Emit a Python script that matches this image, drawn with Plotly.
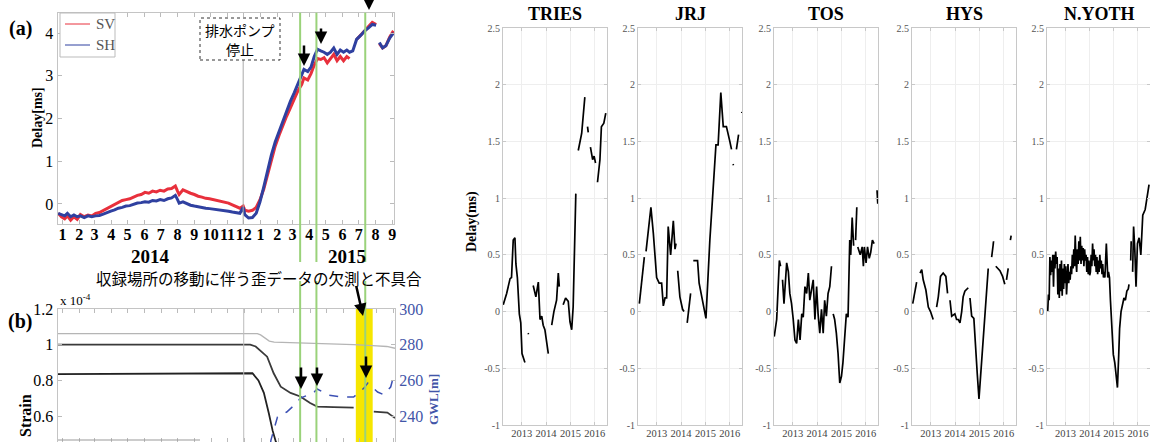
import plotly.graph_objects as go

W, H = 1150, 442
def px(x): return x / W
def py(y): return 1 - y / H

SERIF = "Liberation Serif"
JP = "Noto Sans CJK JP"

# ---------------- Panel (a): delay SV / SH ----------------
a_dates = ["2013-12-24","2013-12-30","2014-01-05","2014-01-10","2014-01-16","2014-01-22","2014-01-28",
           "2014-02-03","2014-02-10","2014-02-17","2014-02-24","2014-03-03","2014-03-10","2014-03-17",
           "2014-03-24","2014-03-31","2014-04-07","2014-04-14","2014-04-21","2014-04-28","2014-05-05",
           "2014-05-12","2014-05-19","2014-05-26","2014-06-02","2014-06-09","2014-06-16","2014-06-23",
           "2014-06-30","2014-07-07","2014-07-14","2014-07-21","2014-07-28","2014-08-01","2014-08-04",
           "2014-08-11","2014-08-18","2014-08-25","2014-09-01","2014-09-08","2014-09-15","2014-09-22",
           "2014-09-29","2014-10-06","2014-10-13","2014-10-20","2014-10-27","2014-11-03","2014-11-10",
           "2014-11-17","2014-11-24","2014-11-30","2014-12-03","2014-12-10","2014-12-17","2014-12-24",
           "2014-12-31","2015-01-07","2015-01-14","2015-01-21","2015-01-28","2015-02-04","2015-02-11",
           "2015-02-18","2015-02-25","2015-03-04","2015-03-11","2015-03-18","2015-03-22","2015-03-29",
           "2015-04-04","2015-04-10","2015-04-16","2015-04-22","2015-04-28","2015-05-04","2015-05-10",
           "2015-05-16","2015-05-22","2015-05-28","2015-06-03","2015-06-09","2015-06-14","2015-06-20",
           "2015-06-27","2015-07-05","2015-07-12","2015-07-19","2015-07-26","2015-08-02","2015-08-05",
           "2015-08-08","2015-08-14","2015-08-20","2015-08-27","2015-09-03"]
sv = [-0.22,-0.30,-0.35,-0.28,-0.38,-0.30,-0.36,-0.25,-0.30,-0.26,-0.28,-0.22,-0.20,-0.15,
      -0.10,-0.05,0.00,0.03,0.08,0.10,0.12,0.16,0.20,0.22,0.27,0.25,0.30,0.28,0.32,0.30,0.35,
      0.36,0.42,0.30,0.22,0.33,0.28,0.25,0.22,0.18,0.16,0.13,0.12,0.10,0.08,0.07,0.05,0.02,
      -0.02,-0.06,-0.10,-0.05,-0.15,-0.17,-0.15,-0.08,0.10,0.35,0.70,1.05,1.35,1.60,1.85,
      2.05,2.25,2.45,2.65,2.80,2.95,2.90,3.05,3.25,3.40,3.38,3.42,3.30,3.40,3.50,3.35,3.45,
      3.35,3.45,3.40,None,3.85,3.95,4.05,4.15,4.25,4.20,None,3.75,3.65,3.70,3.90,4.05]
sh = [-0.22,-0.25,-0.28,-0.22,-0.30,-0.26,-0.30,-0.28,-0.32,-0.28,-0.30,-0.28,-0.27,-0.24,
      -0.20,-0.17,-0.14,-0.10,-0.08,-0.05,-0.04,-0.01,0.02,0.03,0.05,0.04,0.08,0.07,0.10,0.08,
      0.12,0.14,0.20,0.10,0.02,0.05,0.00,-0.03,-0.05,-0.07,-0.08,-0.10,-0.11,-0.12,-0.14,-0.15,
      -0.16,-0.17,-0.19,-0.20,-0.22,-0.08,-0.25,-0.33,-0.32,-0.22,0.05,0.40,0.80,1.15,1.45,
      1.70,1.95,2.20,2.40,2.60,2.80,3.00,3.15,3.10,3.20,3.45,3.62,3.58,3.55,3.50,3.55,3.65,
      3.50,3.60,3.55,3.60,3.55,3.58,3.85,3.95,4.05,4.12,4.20,4.18,None,3.78,3.65,3.70,3.88,4.00]

a_month_ticks = ["2014-%02d-01" % m for m in range(1, 13)] + ["2015-%02d-01" % m for m in range(1, 10)]
a_month_text = [str(m) for m in range(1, 13)] + [str(m) for m in range(1, 10)]
green_dates = ["2015-03-15", "2015-04-14", "2015-07-13"]
pump_stop = "2014-11-30"
yellow_band = ["2015-06-24", "2015-07-25"]

# ---------------- Panel (b): strain / GWL ----------------
strain_light_t = ["2013-12-22","2014-12-25","2014-12-31","2015-01-08","2015-01-16","2015-01-25",
                  "2015-03-01","2015-04-15","2015-05-27","2015-06-20","2015-07-25","2015-08-20","2015-09-04"]
strain_light_v = [1.062,1.062,1.055,1.035,1.02,1.015,1.012,1.008,1.005,1.0,0.995,0.99,0.98]
strain_a_t = ["2013-12-22","2014-12-12","2014-12-22","2015-01-01","2015-01-12","2015-01-24","2015-02-06",
              "2015-02-24","2015-03-14","2015-04-01","2015-04-14","2015-05-14","2015-06-20","2015-06-24",
              "2015-07-27","2015-08-21","2015-08-30","2015-09-04"]
strain_a_v = [1.0,1.0,0.99,0.965,0.933,0.84,0.765,0.73,0.71,0.673,0.653,0.65,0.647,None,
              0.625,0.62,0.60,0.59]
strain_b_t = ["2013-12-22","2014-08-15","2014-12-16","2014-12-27","2015-01-06","2015-01-15",
              "2015-01-22","2015-01-28","2015-02-06"]
strain_b_v = [0.835,0.84,0.84,0.80,0.73,0.617,0.52,0.457,0.40]
gwl_t = ["2015-01-14","2015-01-19","2015-01-31","2015-02-17","2015-03-07","2015-03-14","2015-04-07",
         "2015-04-14","2015-05-05","2015-05-27","2015-06-20","2015-07-09","2015-07-16","2015-08-03",
         "2015-08-14","2015-08-27","2015-09-02"]
gwl_v = [215,226.6,239.5,242.3,247.3,250.1,253,255.2,251.8,250.7,250.7,255.7,258.5,253.5,252,256.3,263]

# ---------------- Right panels: station delays ----------------
stations = ["TRIES", "JRJ", "TOS", "HYS", "N.YOTH"]
tries_t = [2012.24,2012.38,2012.52,2012.58,2012.65,2012.72,2012.76,2012.82,2012.90,2012.96,2013.01,2013.13,None,
           2013.26,2013.28,None,
           2013.47,2013.58,2013.68,2013.75,2013.82,2013.88,2013.95,2014.09,None,
           2014.23,2014.32,2014.43,2014.50,2014.54,None,
           2014.70,2014.80,2014.91,2014.98,2015.05,2015.11,2015.22,None,
           2015.32,2015.46,2015.59,None,2015.70,2015.73,None,
           2015.82,2015.91,2015.97,2016.03,None,
           2016.11,2016.21,2016.27,2016.37,2016.45]
tries_v = [0.06,0.16,0.29,0.30,0.63,0.65,0.42,0.30,-0.02,-0.10,-0.37,-0.45,None,
           -0.19,-0.20,None,
           0.23,0.13,0.26,-0.07,-0.04,-0.12,-0.16,-0.37,None,
           -0.12,0.0,0.10,0.34,0.22,None,
           0.06,0.12,0.09,-0.09,-0.16,0.04,1.04,None,
           1.42,1.57,1.89,None,1.63,1.58,None,
           1.45,1.34,1.37,1.31,None,
           1.14,1.34,1.63,1.66,1.75]
jrj_t = [2012.285,2012.49,None,2012.56,2012.69,2012.76,2012.86,2012.995,2013.10,2013.20,2013.27,2013.34,
         2013.405,2013.47,2013.57,2013.68,2013.75,2013.79,None,2013.86,2013.95,2014.06,2014.12,None,
         2014.25,2014.39,None,2014.50,2014.675,2014.74,2014.84,2015.02,2015.18,2015.32,2015.43,2015.52,
         2015.63,2015.73,2015.86,2016.0,2016.07,None,2016.13,2016.15,None,2016.27,2016.36,None,2016.49,2016.50]
jrj_v = [0.07,0.48,None,0.53,0.78,0.92,0.69,0.30,0.25,0.25,0.05,0.12,
         0.12,0.75,0.50,0.80,0.55,0.60,None,0.36,0.13,0.02,0.0,None,
         -0.10,0.16,None,0.45,0.45,0.25,0.13,-0.06,0.63,1.12,1.47,1.47,
         1.93,1.63,1.63,1.50,1.43,None,1.30,1.29,None,1.43,1.56,None,1.75,1.76]
tos_t = [2012.24,2012.34,2012.45,2012.50,None,2012.58,2012.64,2012.75,2012.82,2012.88,2012.95,2013.02,
         2013.09,2013.16,2013.23,2013.30,2013.37,2013.43,2013.50,2013.57,2013.64,2013.70,2013.77,2013.84,
         2013.91,2013.98,2014.04,2014.11,2014.18,2014.25,2014.31,2014.38,2014.45,2014.52,2014.59,None,
         2014.66,2014.72,2014.79,2014.86,2014.93,2015.00,2015.06,2015.13,2015.20,2015.27,2015.34,2015.38,
         2015.44,2015.50,None,2015.58,2015.63,None,2015.67,2015.77,2015.85,2015.90,2015.94,2016.01,
         2016.07,2016.14,2016.20,2016.27,2016.34,None,2016.46,2016.49]
tos_v = [-0.22,-0.07,0.45,0.40,None,0.28,0.07,0.43,0.35,0.16,0.07,-0.07,
         -0.25,-0.28,-0.07,-0.25,-0.02,-0.05,0.22,0.16,0.34,0.10,0.20,0.28,
         -0.07,0.22,-0.02,-0.19,0.02,-0.19,0.10,-0.04,0.16,0.22,0.40,None,
         -0.02,-0.07,-0.19,-0.37,-0.63,-0.57,-0.45,-0.19,-0.02,-0.05,0.63,0.50,
         0.83,0.58,None,0.63,0.92,None,0.57,0.50,0.57,0.40,0.57,0.43,
         0.57,0.47,0.52,0.63,0.60,None,1.07,0.95]
hys_t = [2012.26,2012.35,2012.42,None,2012.56,2012.63,2012.69,2012.80,2012.90,2012.99,2013.10,None,
         2013.24,2013.31,2013.40,2013.51,2013.62,2013.69,None,2013.79,2013.86,2013.99,2014.06,2014.13,
         2014.20,2014.27,2014.33,2014.40,2014.54,None,2014.61,2014.68,2014.77,2014.84,2014.91,2014.98,
         2015.04,2015.15,2015.26,2015.36,None,2015.50,2015.58,None,2015.67,2015.77,2015.84,2015.95,
         2016.04,None,2016.11,2016.18,None,2016.27,2016.30]
hys_v = [0.07,0.19,0.26,None,0.34,0.37,0.28,0.19,0.04,0.0,-0.07,None,
         0.04,0.13,0.31,0.34,0.31,0.16,None,0.10,-0.04,-0.02,-0.07,-0.07,
         -0.10,0.0,0.13,0.18,0.21,None,0.12,-0.04,-0.06,-0.34,-0.55,-0.77,
         -0.60,-0.25,0.10,0.38,None,0.48,0.62,None,0.40,0.38,0.36,0.31,
         0.24,None,0.28,0.38,None,0.63,0.67]
nyoth_t = [2012.26,2012.29,2012.32,2012.35,2012.38,2012.41,2012.44,2012.47,2012.50,2012.53,2012.56,
           2012.59,2012.62,2012.65,2012.68,2012.71,2012.74,2012.77,2012.80,2012.83,2012.86,2012.89,
           2012.92,2012.95,2012.98,2013.01,2013.04,2013.07,2013.10,2013.13,2013.16,2013.19,2013.22,
           2013.25,2013.28,2013.31,2013.34,2013.37,2013.40,2013.43,2013.46,2013.49,2013.52,2013.55,
           2013.58,2013.61,2013.64,2013.67,2013.70,2013.73,2013.76,2013.79,2013.82,2013.85,2013.88,
           2013.91,2013.94,2013.97,2014.00,2014.03,2014.06,2014.09,2014.12,2014.15,2014.18,2014.21,
           2014.24,2014.27,2014.30,2014.33,2014.36,2014.39,2014.42,2014.45,2014.48,2014.51,2014.54,
           2014.57,2014.60,2014.63,2014.66,2014.69,2014.72,2014.75,2014.78,2014.82,2014.86,2014.92,
           2014.98,2015.04,2015.10,2015.15,2015.20,2015.24,2015.30,2015.36,2015.42,2015.48,2015.54,
           2015.60,2015.63,None,2015.70,2015.72,None,2015.78,2015.82,2015.87,2015.92,2015.98,2016.05,
           2016.12,2016.20,2016.30,2016.40,2016.46]
nyoth_v = [0.0,0.15,0.10,0.48,0.32,0.45,0.35,0.50,0.22,0.50,0.38,
           0.53,0.42,0.48,0.15,0.38,0.12,0.42,0.18,0.45,0.14,0.38,
           0.20,0.42,0.25,0.40,0.15,0.30,0.42,0.25,0.35,0.28,0.40,
           0.33,0.50,0.38,0.55,0.40,0.67,0.45,0.35,0.55,0.42,0.62,
           0.45,0.66,0.42,0.58,0.45,0.56,0.40,0.55,0.45,0.50,0.35,
           0.48,0.33,0.45,0.32,0.35,0.50,0.40,0.60,0.45,0.55,0.40,
           0.50,0.35,0.48,0.33,0.45,0.35,0.50,0.38,0.45,0.33,0.42,
           0.30,0.35,0.30,0.45,0.60,0.45,0.30,0.35,0.30,0.10,-0.20,
           -0.38,-0.45,-0.60,-0.67,-0.40,-0.15,0.0,0.05,0.12,0.10,0.18,
           0.20,0.24,None,0.45,0.62,None,0.35,0.75,0.55,0.22,0.60,0.65,
           0.50,0.85,0.90,1.05,1.12]
station_t = [tries_t, jrj_t, tos_t, hys_t, nyoth_t]
station_v = [tries_v, jrj_v, tos_v, hys_v, nyoth_v]
year_ticks = [2013, 2014, 2015, 2016]
delay_ticks = [-1, -0.5, 0, 0.5, 1, 1.5, 2, 2.5]
delay_text = ["-1", "-0.5", "0", "0.5", "1", "1.5", "2", "2.5"]

# =====================================================================
fig = go.Figure()
RED = "#e8303c"
BLUE = "#2f40a0"
GREEN = "#9ad27a"

fig.add_trace(go.Scatter(x=a_dates, y=sv, mode="lines", line=dict(color=RED, width=3),
                         connectgaps=False, xaxis="x", yaxis="y", name="SV"))
fig.add_trace(go.Scatter(x=a_dates, y=sh, mode="lines", line=dict(color=BLUE, width=3),
                         connectgaps=False, xaxis="x", yaxis="y", name="SH"))

fig.add_trace(go.Scatter(x=strain_light_t, y=strain_light_v, mode="lines",
                         line=dict(color="#b5b5b5", width=1.3), xaxis="x2", yaxis="y2"))
fig.add_trace(go.Scatter(x=strain_a_t, y=strain_a_v, mode="lines", connectgaps=False,
                         line=dict(color="#3a3a3a", width=1.8), xaxis="x2", yaxis="y2"))
fig.add_trace(go.Scatter(x=strain_b_t, y=strain_b_v, mode="lines",
                         line=dict(color="#222222", width=1.8), xaxis="x2", yaxis="y2"))
fig.add_trace(go.Scatter(x=gwl_t, y=gwl_v, mode="lines",
                         line=dict(color="#3c50b4", width=1.5, dash="dash"), xaxis="x2", yaxis="y3"))

left_px = [503, 638, 774, 912, 1047]
panel_w = 104
for i in range(5):
    xa = "x%d" % (i + 3)
    ya = "y%d" % (i + 4)
    fig.add_trace(go.Scatter(x=station_t[i], y=station_v[i], mode="lines", connectgaps=False,
                             line=dict(color="black", width=1.7), xaxis=xa, yaxis=ya))

# ---------------- layout axes ----------------
a_dom_x = [px(57.5), px(394)]
layout = dict(
    template="none",
    width=W, height=H, margin=dict(l=0, r=0, t=0, b=0, pad=0), autosize=False,
    paper_bgcolor="white", plot_bgcolor="white", showlegend=False,
    font=dict(family=SERIF, color="black"),
    xaxis=dict(domain=a_dom_x, anchor="y", type="date", range=["2013-12-22 18:00", "2015-09-04"],
               tickvals=a_month_ticks, ticktext=a_month_text, tickangle=0, automargin=False,
               ticklabelstandoff=-4,
               tickfont=dict(size=16, family=SERIF, weight="bold", color="black"),
               showline=True, linecolor="#c4c4c4", mirror="ticks", ticks="inside", ticklen=4,
               tickcolor="#bbbbbb", showgrid=False, zeroline=False),
    yaxis=dict(domain=[py(224), py(12.7)], anchor="x", range=[-0.47, 4.475], automargin=False,
               tickvals=[0, 1, 2, 3, 4], tickfont=dict(size=16, family=SERIF),
               showline=True, linecolor="#c4c4c4", mirror="ticks", ticks="inside", ticklen=4,
               tickcolor="#bbbbbb", showgrid=False, zeroline=False),
    xaxis2=dict(domain=[px(57.5), px(395)], anchor="y2", type="date", automargin=False,
                range=["2013-12-22 18:00", "2015-09-04"], tickvals=a_month_ticks,
                showticklabels=False, showline=True, linecolor="#c4c4c4", mirror="ticks",
                ticks="inside", ticklen=4, tickcolor="#bbbbbb", showgrid=False, zeroline=False),
    yaxis2=dict(domain=[0, py(309)], anchor="x2", range=[0.455, 1.2], automargin=False,
                tickvals=[0.6, 0.8, 1.0, 1.2], ticktext=["0.6", "0.8", "1", "1.2"],
                tickfont=dict(size=16, family=SERIF), showline=True, linecolor="#c4c4c4",
                ticks="inside", ticklen=4, tickcolor="#bbbbbb", showgrid=False, zeroline=False),
    yaxis3=dict(overlaying="y2", anchor="x2", side="right", range=[225.5, 300], automargin=False,
                tickvals=[240, 260, 280, 300], tickfont=dict(size=16, family=SERIF, color="#4255a8"),
                showline=True, linecolor="#c4c4c4", ticks="inside", ticklen=4,
                tickcolor="#bbbbbb", showgrid=False, zeroline=False),
)
for i in range(5):
    l = left_px[i]
    r = min(l + panel_w, W)
    layout["xaxis%d" % (i + 3)] = dict(
        domain=[px(l), px(r)], anchor="y%d" % (i + 4), range=[2012.23, 2016.5], automargin=False,
        tickvals=year_ticks, ticktext=[str(y) for y in year_ticks], ticklabelstandoff=-2,
        tickfont=dict(size=10.5, family=SERIF, color="#444444"),
        showline=True, linecolor="#c8c8c8", mirror="ticks", ticks="inside", ticklen=3,
        tickcolor="#c8c8c8", showgrid=True, gridcolor="#eeeeee", zeroline=False)
    layout["yaxis%d" % (i + 4)] = dict(
        domain=[py(425), py(28)], anchor="x%d" % (i + 3), range=[-1, 2.5], automargin=False,
        tickvals=delay_ticks, ticktext=delay_text,
        tickfont=dict(size=10, family=SERIF, color="#555555"),
        showline=True, linecolor="#c8c8c8", mirror="ticks", ticks="inside", ticklen=3,
        tickcolor="#c8c8c8", showgrid=True, gridcolor="#eeeeee", zeroline=False)
fig.update_layout(**layout)

# ---------------- shapes ----------------
shapes = []
shapes.append(dict(type="rect", xref="x2", yref="paper", x0=yellow_band[0], x1=yellow_band[1],
                   y0=0, y1=py(309), fillcolor="#f6e600", line=dict(width=0), layer="below"))
for d in green_dates:
    for (y0, y1) in [(12.7, 262), (281, 442)]:
        shapes.append(dict(type="line", xref="x", yref="paper", x0=d, x1=d, y0=py(y1), y1=py(y0),
                           line=dict(color=GREEN, width=2)))
shapes.append(dict(type="line", xref="x", yref="paper", x0=pump_stop, x1=pump_stop,
                   y0=py(224), y1=py(60), line=dict(color="#aaaaaa", width=1)))
shapes.append(dict(type="line", xref="x2", yref="paper", x0=pump_stop, x1=pump_stop,
                   y0=0, y1=py(309), line=dict(color="#bbbbbb", width=1)))
shapes.append(dict(type="rect", xref="paper", yref="paper", x0=px(60), x1=px(115), y0=py(57), y1=py(13),
                   line=dict(color="#bbbbbb", width=1), fillcolor="white"))
shapes.append(dict(type="line", xref="paper", yref="paper", x0=px(65), x1=px(90), y0=py(24), y1=py(24),
                   line=dict(color=RED, width=1)))
shapes.append(dict(type="line", xref="paper", yref="paper", x0=px(65), x1=px(90), y0=py(45), y1=py(45),
                   line=dict(color=BLUE, width=1)))
shapes.append(dict(type="rect", xref="paper", yref="paper", x0=px(200), x1=px(280), y0=py(60), y1=py(18),
                   line=dict(color="#333333", width=1, dash="dot"), fillcolor="white"))
shapes.append(dict(type="line", xref="paper", yref="paper", x0=px(58), x1=px(200), y0=py(440), y1=py(440),
                   line=dict(color="#999999", width=1)))
fig.update_layout(shapes=shapes)

# ---------------- annotations ----------------
ann = []
def text(x, y, s, size, family=SERIF, color="black", bold=False, angle=0, xanchor="center"):
    ann.append(dict(x=px(x), y=py(y), xref="paper", yref="paper", text=s, showarrow=False,
                    textangle=angle, xanchor=xanchor, yanchor="middle",
                    font=dict(size=size, family=family, color=color, weight="bold" if bold else "normal")))

text(20, 29, "(a)", 20, bold=True)
text(20, 321, "(b)", 20, bold=True)
text(38, 118, "Delay[ms]", 14, bold=True, angle=-90)
text(94, 24, "SV", 15, color="#555555", xanchor="left")
text(94, 45, "SH", 15, color="#555555", xanchor="left")
text(240, 30, "排水ポンプ", 14, family=JP)
text(240, 49, "停止", 14, family=JP)
text(150, 256, "2014", 19, bold=True)
text(347, 256, "2015", 19, bold=True)
text(259, 278, "収録場所の移動に伴う歪データの欠測と不具合", 15.5, family=JP)
text(58, 300, "x 10<sup>-4</sup>", 13, xanchor="left")
text(25, 416, "Strain", 16, bold=True, angle=-90)
text(433, 400, "GWL[m]", 13, color="#4255a8", bold=True, angle=-90)
text(472, 222, "Delay(ms)", 14, bold=True, angle=-90)
for i, s in enumerate(stations):
    cx = left_px[i] + panel_w / 2
    text(cx, 14, s, 18, bold=True)

def arrow(x, ytip, ytail, x_tail=None):
    xt = x if x_tail is None else x_tail
    ann.append(dict(x=px(x), y=py(ytip), xref="paper", yref="paper", text="", showarrow=True,
                    ax=xt - x, ay=ytail - ytip, axref="pixel", ayref="pixel",
                    arrowhead=2, arrowsize=1, arrowwidth=2.5, arrowcolor="black"))
arrow(304, 66, 44)
arrow(321, 44, 27)
arrow(369, 10, -10)
arrow(301, 389, 366)
arrow(317, 386, 366)
arrow(366, 378, 355)
arrow(363, 316, 285, x_tail=356)
fig.update_layout(annotations=ann)

fig.write_html("out.html", config={"responsive": False, "displayModeBar": False},
               post_script="document.body.style.margin='0';document.body.style.padding='0';")
